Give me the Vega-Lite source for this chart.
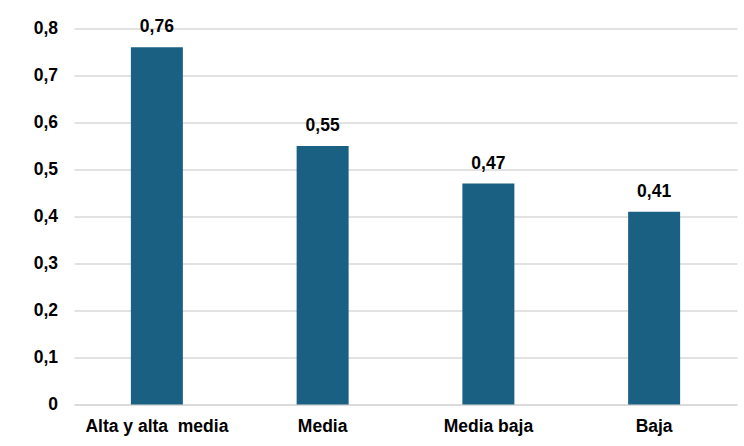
{
  "$schema": "https://vega.github.io/schema/vega-lite/v6.json",
  "autosize": {"type": "none"},
  "padding": {"left": 74, "top": 28.5, "right": 7, "bottom": 41.5},
  "width": 663,
  "height": 376,
  "background": "white",
  "data": {"values": [
    {"nivel": "Alta y alta\u00a0 media", "v": 0.76},
    {"nivel": "Media", "v": 0.55},
    {"nivel": "Media baja", "v": 0.47},
    {"nivel": "Baja", "v": 0.41}
  ]},
  "transform": [{"calculate": "replace(format(datum.v, '.2f'), '.', ',')", "as": "lab"}],
  "encoding": {
    "x": {"field": "nivel", "type": "nominal", "sort": null, "title": null,
      "scale": {"paddingInner": 0, "paddingOuter": 0},
      "axis": {"labelAngle": 0, "ticks": false, "domainColor": "#d9d9d9", "domainWidth": 1.5, "labelPadding": 13, "labelFontSize": 17.5, "labelFontWeight": "bold", "labelColor": "#000000", "labelFont": "Liberation Sans"}},
    "y": {"field": "v", "type": "quantitative", "title": null,
      "scale": {"domain": [0, 0.8], "nice": false},
      "axis": {"values": [0, 0.1, 0.2, 0.3, 0.4, 0.5, 0.6, 0.7, 0.8], "labelExpr": "datum.value == 0 ? '0' : replace(format(datum.value, '.1f'), '.', ',')", "domain": false, "ticks": false, "gridColor": "#d9d9d9", "gridWidth": 1.5, "labelPadding": 16.5, "labelFontSize": 17.5, "labelFontWeight": "bold", "labelColor": "#000000", "labelFont": "Liberation Sans"}}
  },
  "layer": [
    {"mark": {"type": "bar", "size": 52, "color": "#1a6082"}},
    {"mark": {"type": "text", "baseline": "alphabetic", "dy": -15, "fontSize": 17.5, "fontWeight": "bold", "font": "Liberation Sans", "color": "#000000"},
     "encoding": {"text": {"field": "lab"}}}
  ],
  "config": {"view": {"stroke": null}}
}
